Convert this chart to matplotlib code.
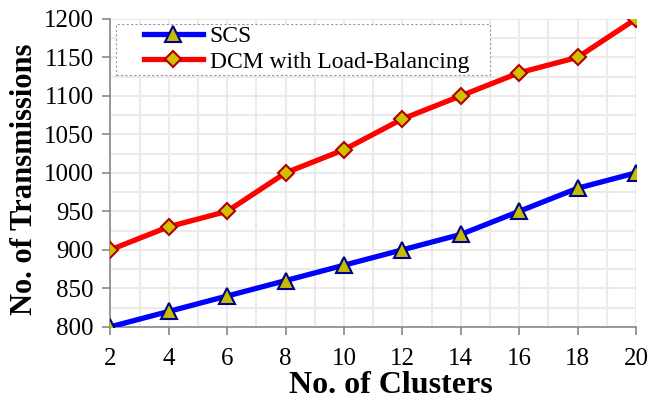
import numpy as np
import matplotlib.pyplot as plt
from matplotlib.ticker import MultipleLocator
from matplotlib.patches import Rectangle

clusters = [2, 4, 6, 8, 10, 12, 14, 16, 18, 20]
scs = [800, 820, 840, 860, 880, 900, 920, 950, 980, 1000]
dcm = [900, 930, 950, 1000, 1030, 1070, 1100, 1130, 1150, 1200]

plt.rcParams['font.family'] = ['Liberation Serif', 'DejaVu Serif']

fig, ax = plt.subplots(figsize=(6.49, 4.01), dpi=100)
fig.subplots_adjust(left=0.17, right=0.98, top=0.953, bottom=0.185)

ax.plot(clusters, scs, color='#0000ff', lw=3.8, marker='^', ms=12,
        mfc='#c4bc00', mec='#00008b', mew=1.5, label='SCS', zorder=3)
ax.plot(clusters, dcm, color='#ff0000', lw=3.8, marker='D', ms=8,
        mfc='#d0c000', mec='#b00000', mew=1.5, label='DCM with Load-Balancing', zorder=3)

ax.set_xlim(2, 20)
ax.set_ylim(800, 1200)
ax.set_xticks(clusters)
ax.yaxis.set_major_locator(MultipleLocator(50))
ax.xaxis.set_minor_locator(MultipleLocator(1))
ax.yaxis.set_minor_locator(MultipleLocator(25))
ax.grid(which='both', color='#ebebeb', lw=1.5)
ax.set_axisbelow(True)

for s in ['top', 'right']:
    ax.spines[s].set_visible(False)
for s in ['left', 'bottom']:
    ax.spines[s].set_color('#888888')
    ax.spines[s].set_linewidth(1.2)
ax.tick_params(which='major', labelsize=18, color='#888888', length=6, width=1.2, pad=6)
ax.tick_params(axis='x', which='major', pad=9)
ax.tick_params(which='minor', length=0)

ax.set_xlabel('No. of Clusters', fontsize=23, fontweight='bold', labelpad=1, x=0.534)
ax.set_ylabel('No. of Transmissions', fontsize=22, fontweight='bold', labelpad=3, y=0.48)

leg = ax.legend(loc='upper left', fontsize=17, frameon=False,
                handlelength=2.5, handletextpad=0.3, borderpad=0.1, labelspacing=0.15,
                bbox_to_anchor=(0.05, 1.0), borderaxespad=0.2)
leg.set_zorder(5)

# dashed legend frame, wider than the entries like the original
fig.canvas.draw()
bb = leg.get_window_extent().transformed(fig.transFigure.inverted())
padl = 25 / fig.bbox.width
padr = 18 / fig.bbox.width
frame = Rectangle((bb.x0 - padl, bb.y0), bb.width + padl + padr, bb.height,
                  transform=fig.transFigure, facecolor='white',
                  edgecolor='#999999', lw=0.8, ls=(0, (2, 2)), zorder=4)
ax.add_artist(frame)

fig.savefig('out.png', dpi=100)
